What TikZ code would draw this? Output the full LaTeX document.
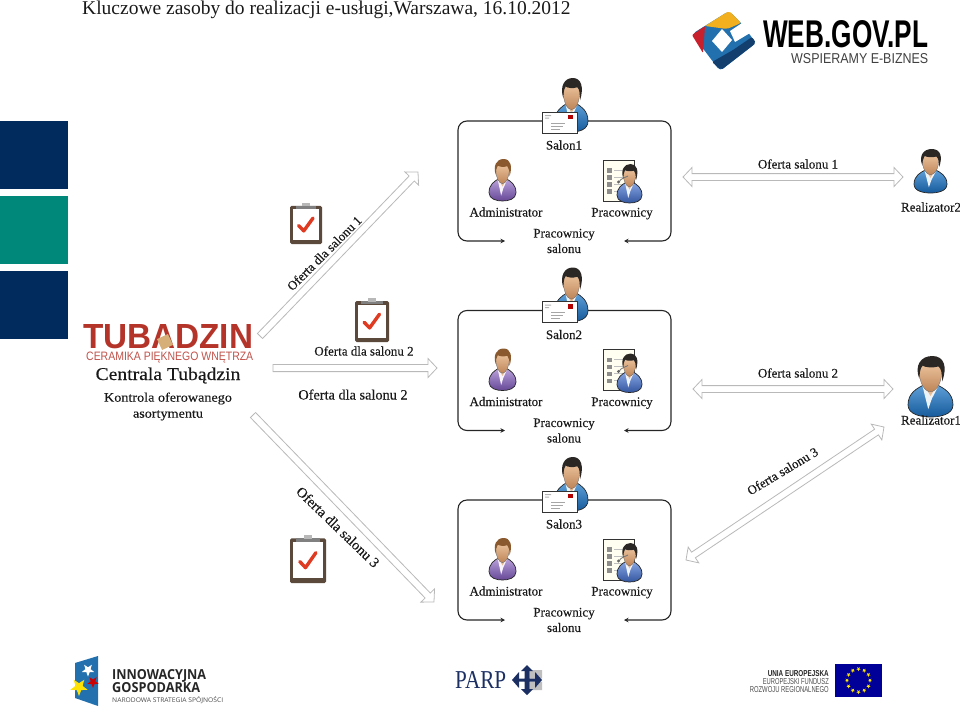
\documentclass[tikz,border=0pt]{standalone}
\usepackage{fontspec}
\usepackage{graphicx}
\usetikzlibrary{calc,arrows.meta}
\setmainfont{Liberation Serif}
\newfontfamily\lbf[FakeBold=0.25]{Liberation Serif}
\newfontfamily\wbf[FakeStretch=1.09,FakeBold=0.25]{Liberation Serif}
\newfontfamily\snf{Open Sans}
\newfontfamily\arf{Liberation Sans}
\definecolor{navy}{HTML}{002B5C}
\definecolor{teal2}{HTML}{00897A}
\definecolor{tubred}{HTML}{B5342A}
\definecolor{arrgray}{HTML}{B9B9B9}
\definecolor{parpnavy}{HTML}{1B2F63}
\definecolor{bluelt}{HTML}{5FA0D8}
\definecolor{bluedk}{HTML}{165A9C}
\definecolor{purplt}{HTML}{BBA2DC}
\definecolor{purdk}{HTML}{654796}
\definecolor{indlt}{HTML}{86A6E4}
\definecolor{inddk}{HTML}{34569F}
\definecolor{skinlt}{HTML}{EFC8A2}
\definecolor{skindk}{HTML}{BE8458}
\definecolor{hairdk}{HTML}{2B2725}
\definecolor{hairbr}{HTML}{8A5A2E}
\definecolor{boardbr}{HTML}{5B4A3C}
\definecolor{checkred}{HTML}{DF3B22}
\definecolor{webblue}{HTML}{2270AE}
\definecolor{webdark}{HTML}{123F6E}
\definecolor{webyel}{HTML}{F2B01E}
\definecolor{webred}{HTML}{C8202D}
\definecolor{tan2}{HTML}{D6AE78}
\tikzset{
  txtm/.style={inner sep=0pt,align=center,font=\lbf\fontsize{13}{15.5}\selectfont,text=black!90},
  txt/.style={inner sep=0pt,font=\lbf\fontsize{13}{15.5}\selectfont,text=black!90,text height=9.5pt,text depth=2.5pt},
  txtb/.style={txt,font=\lbf\fontsize{14.3}{16}\selectfont},
  anchorbox/.style={inner sep=0pt,minimum height=18pt},
  blk/.style={draw=arrgray,fill=white,line width=.8pt,line join=miter},
  boxline/.style={draw=black!85,line width=1.1pt,rounded corners=9pt,-{Stealth[length=4.5pt,width=4.5pt]}},
  icon/.style={draw=black!80,line width=.6pt}
}
% block arrows between named coordinates
\newcommand\singlearr[2]{\draw[blk] let \p1=($(#2)-(#1)$),\n1={veclen(\x1,\y1)},\n2={atan2(\y1,\x1)} in
  [shift={(#1)},rotate=\n2] (0pt,-3.6pt) -- ({\n1-9pt},-3.6pt) -- ({\n1-9pt},-9.5pt) -- (\n1,0pt) -- ({\n1-9pt},9.5pt) -- ({\n1-9pt},3.6pt) -- (0pt,3.6pt) -- cycle;}
\newcommand\doublearr[2]{\draw[blk] let \p1=($(#2)-(#1)$),\n1={veclen(\x1,\y1)},\n2={atan2(\y1,\x1)} in
  [shift={(#1)},rotate=\n2] (0pt,0pt) -- (9pt,-9.5pt) -- (9pt,-3.4pt) -- ({\n1-9pt},-3.4pt) -- ({\n1-9pt},-9.5pt) -- (\n1,0pt) -- ({\n1-9pt},9.5pt) -- ({\n1-9pt},3.4pt) -- (9pt,3.4pt) -- (9pt,9.5pt) -- cycle;}
% person icon: #1 cx, #2 top, #3 width, #4 height, #5 light, #6 dark, #7 hair
\newcommand\person[7]{\begin{scope}[shift={(#1,#2)},x=#3/100*1pt,y=-#4/140*1pt]
  \path[draw=black!85,line width=.7pt,top color=#5,bottom color=#6] (-50,112) .. controls (-50,85) and (-30,74) .. (-14,66) -- (14,66) .. controls (30,74) and (50,85) .. (50,112) .. controls (50,134) and (22,140) .. (0,140) .. controls (-22,140) and (-50,134) .. (-50,112) -- cycle;
  \fill[white!88!#5] (-18,68) -- (-5,122) -- (3,98) -- (18,68) -- cycle;
  \path[top color=skindk,bottom color=skinlt] (-11,55) -- (11,55) -- (9,76) -- (0,92) -- (-9,76) -- cycle;
  \path[draw=black!60,line width=.3pt,top color=skinlt,bottom color=skindk] (-25,35) .. controls (-25,12) and (25,12) .. (25,35) .. controls (25,60) and (14,82) .. (0,82) .. controls (-14,82) and (-25,60) .. (-25,35) -- cycle;
  \fill[#7] (-25,52) .. controls (-36,22) and (-22,0) .. (4,0) .. controls (30,0) and (38,24) .. (26,58) .. controls (26,40) and (24,30) .. (18,24) .. controls (4,28) and (-12,26) .. (-18,22) .. controls (-24,30) and (-24,42) .. (-25,52) -- cycle;
\end{scope}}
% clipboard: #1 left, #2 top, #3 width, #4 height
\newcommand\clipb[4]{\begin{scope}[shift={(#1,#2)},x=#3/100*1pt,y=-#4/125*1pt]
  \fill[boardbr,rounded corners=1.5pt] (0,9) rectangle (100,125);
  \fill[white] (9,19) rectangle (91,113);
  \fill[black!50] (18,9) rectangle (82,17);
  \fill[black!28] (38,0) rectangle (62,10);
  \draw[checkred,line width=3.4pt,line cap=round,line join=round] (27,69) -- (43,85) -- (72,46);
\end{scope}}
% mail icon
\newcommand\mailicon[2]{\begin{scope}[shift={(#1,#2)}]
  \draw[icon,fill=white] (0,0) rectangle (35,21);
  \fill[red!70!black] (26,2.5) rectangle (31,7);
  \fill[black!30] (3,3) rectangle (9,4) (3,5.5) rectangle (7,6.5);
  \draw[black!35,line width=.5pt] (9,11) -- (23,11) (9,14) -- (21,14) (9,17) -- (18,17);
\end{scope}}
% checklist paper
\newcommand\listicon[2]{\begin{scope}[shift={(#1,#2)}]
  \draw[icon,fill=yellow!6!white] (0,0) rectangle (31,41);
  \foreach \yy in {8,15,22,29}{\fill[black!45] (4,\yy) rectangle (8.5,\yy+4.5);\draw[black!25,line width=.5pt] (11,\yy+2) -- (24,\yy+2);}
\end{scope}}
% star
\newcommand\starp[4]{\fill[#4] ({#1},{#2}) +(90:#3) -- +(126:{.42*#3}) -- +(162:#3) -- +(198:{.42*#3}) -- +(234:#3) -- +(270:{.42*#3}) -- +(306:#3) -- +(342:{.42*#3}) -- +(18:#3) -- +(54:{.42*#3}) -- cycle;}
% a salon group: #1 prefix, #2 y offset, #3 name
\newcommand\salon[3]{\begin{scope}[shift={(0,#2)}]
  \node[anchorbox,minimum width=35pt] (#1mail) at (559.5,121) {};
  \node[anchorbox,minimum width=33pt] (#1boss) at (571.5,121) {};
  \coordinate (#1l) at (505,241);
  \coordinate (#1r) at (624,241);
  \coordinate (#1lc) at (458,121);
  \coordinate (#1rc) at (671,121);
  \draw[boxline] (#1mail.west) -- (#1lc) -- (#1lc |- #1l) -- (#1l);
  \draw[boxline] (#1boss.east) -- (#1rc) -- (#1rc |- #1r) -- (#1r);
  \person{571.5}{78}{33}{54}{bluelt}{bluedk}{hairdk}
  \mailicon{542}{112}
  \node[txt] (#1name) at (564,146) {#3};
  \person{502.5}{159}{27}{42}{purplt}{purdk}{hairbr}
  \listicon{603}{160}
  \person{629.5}{164}{25}{39}{indlt}{inddk}{hairdk}
  \draw[black!55,line width=.8pt] (619,182) .. controls (621,178) and (625,178) .. (628,176);
  \fill[black!60] (618.5,182) circle (1.6pt);
  \node[txt] (#1adm) at (506,213) {Administrator};
  \node[txt] (#1prac) at (622,213) {Pracownicy};
  \node[txtm] (#1ps) at (564,241) {Pracownicy\\salonu};
\end{scope}}
\begin{document}
\begin{tikzpicture}[x=1pt,y=-1pt]
\useasboundingbox (0,0) rectangle (960,709);
% title
\node[inner sep=0pt,anchor=west,font=\fontsize{19.5}{22}\selectfont,text=black!90] (title) at (82,9.5) {Kluczowe zasoby do realizacji e-usługi,Warszawa, 16.10.2012};
% left squares
\fill[navy] (0,121) rectangle (68,189);
\fill[teal2] (0,196) rectangle (68,264);
\fill[navy] (0,271) rectangle (68,339);
% web.gov logo
\fill[webblue,rounded corners=4pt] (692,34) -- (729,11) -- (741,23) -- (756,43) -- (720,71) -- cycle;
\fill[webyel,rounded corners=2pt] (705,26) -- (729,11) -- (741,23) -- (727,29) -- cycle;
\fill[webred,rounded corners=1pt] (692,35) -- (705,26) -- (703,53) -- cycle;
\fill[webdark,rounded corners=2pt] (733,50) -- (752,37) -- (756,43) -- (721,70) -- (712,62) -- cycle;
\fill[white] (742,23) -- (730,31) -- (735,42) -- (750,33) -- cycle;
\fill[white] (722,29) -- (732,40) -- (722,52) -- (712,41) -- cycle;
\node[inner sep=0pt,anchor=north west] (web) at (763,20) {\resizebox{165pt}{27pt}{\arf\bfseries WEB.GOV.PL}};
\node[inner sep=0pt,anchor=north west,text=black!75] (wsp) at (791,53) {\resizebox{137pt}{10pt}{\arf WSPIERAMY E-BIZNES}};
% tubadzin
\node[inner sep=0pt,anchor=north west,text=tubred] (tub) at (83,324) {\resizebox{170pt}{24pt}{\arf\bfseries TUBADZIN}};
\fill[tan2,rotate around={25:(165,342)}] (159,336) rectangle (171,348);
\node[inner sep=0pt,anchor=north west,text=tubred!85!white] (cer) at (86,352) {\resizebox{167pt}{8.5pt}{\arf CERAMIKA PIĘKNEGO WNĘTRZA}};
\node[inner sep=0pt,font=\wbf\fontsize{18}{20}\selectfont,text=black!90,text height=12pt,text depth=4pt] (cen) at (168,376) {Centrala Tubądzin};
\node[inner sep=0pt,align=center,font=\wbf\fontsize{13}{16}\selectfont,text=black!90] (kon) at (168,406.5) {Kontrola oferowanego\\asortymentu};
% salons
\salon{sa}{0}{Salon1}
\salon{sb}{189.5}{Salon2}
\salon{sc}{379}{Salon3}
% block arrows
\coordinate (a1s) at (260,336); \coordinate (a1e) at (418,172);
\coordinate (a2s) at (273,368); \coordinate (a2e) at (437,368);
\coordinate (a3s) at (253,415); \coordinate (a3e) at (434,602);
\coordinate (d1s) at (683,177); \coordinate (d1e) at (903,177);
\coordinate (d2s) at (693,389); \coordinate (d2e) at (893,389);
\coordinate (d3s) at (686,560); \coordinate (d3e) at (884,427);
\singlearr{a1s}{a1e}
\singlearr{a2s}{a2e}
\singlearr{a3s}{a3e}
\doublearr{d1s}{d1e}
\doublearr{d2s}{d2e}
\doublearr{d3s}{d3e}
% clipboards
\clipb{290}{203}{32}{41}
\clipb{355}{298}{34}{44}
\clipb{290}{535}{36}{48}
% arrow labels
\node[txt,rotate=45] (l1) at (325,254) {Oferta dla salonu 1};
\node[txt] (l2) at (364,352) {Oferta dla salonu 2};
\node[txtb] (l2b) at (353,396) {Oferta dla salonu 2};
\node[txtb,rotate=-44] (l3) at (337,528) {Oferta dla salonu 3};
\node[txt] (o1) at (798,165) {Oferta salonu 1};
\node[txt] (o2) at (798,374) {Oferta salonu 2};
\node[txt,rotate=31] (o3) at (783,472) {Oferta salonu 3};
% realizators
\person{930.5}{149}{33}{44}{bluelt}{bluedk}{hairdk}
\node[txt] (r2) at (931,208) {Realizator2};
\person{930.5}{356}{45}{61}{bluelt}{bluedk}{hairdk}
\node[txt] (r1) at (931,421) {Realizator1};
% innowacyjna logo
\fill[webblue] (75,663) -- (98,656) -- (98,706) -- (75,698) -- cycle;
\starp{88}{670}{6.5}{white}
\starp{79}{687}{9}{yellow!85!orange}
\starp{93}{682}{6}{red!80!black}
\node[inner sep=0pt,anchor=north west,text=black!85] (ino) at (112,669) {\resizebox{94pt}{10pt}{\snf\bfseries INNOWACYJNA}};
\node[inner sep=0pt,anchor=north west,text=black!85] (gos) at (112,682.5) {\resizebox{88pt}{10pt}{\snf\bfseries GOSPODARKA}};
\node[inner sep=0pt,anchor=north west,text=black!70] (nar) at (112,696) {\resizebox{111pt}{6pt}{\snf NARODOWA STRATEGIA SPÓJNOŚCI}};
% parp logo
\node[inner sep=0pt,anchor=north west,text=parpnavy] (parp) at (455,671.5) {\resizebox{51pt}{17pt}{PARP}};
\fill[black!25] (530,670) rectangle (542,678.5) (530,681.5) rectangle (542,690);
\fill[parpnavy] (527,665) -- (533,671) -- (521,671) -- cycle;
\fill[parpnavy] (527,695) -- (533,689) -- (521,689) -- cycle;
\fill[parpnavy] (512,680) -- (519,672) -- (519,688) -- cycle;
\fill[parpnavy] (542,680) -- (535,672) -- (535,688) -- cycle;
\fill[parpnavy] (524.5,670) rectangle (529.5,690) (518,678.5) rectangle (536,681.5);
% eu logo
\node[inner sep=0pt,anchor=north east,text=black!85] (eu1) at (829,670) {\resizebox{61pt}{6pt}{\arf\bfseries UNIA EUROPEJSKA}};
\node[inner sep=0pt,anchor=north east,text=black!70] (eu2) at (829,678) {\resizebox{66pt}{6pt}{\arf EUROPEJSKI FUNDUSZ}};
\node[inner sep=0pt,anchor=north east,text=black!70] (eu3) at (829,686) {\resizebox{79pt}{6pt}{\arf ROZWOJU REGIONALNEGO}};
\fill[blue!60!black] (835,664) rectangle (882,697);
\foreach \a in {0,30,...,330}{\starp{858.5+11.5*cos(\a)}{680.5+11.5*sin(\a)}{2.2}{yellow!90!orange}}
\end{tikzpicture}
\end{document}
